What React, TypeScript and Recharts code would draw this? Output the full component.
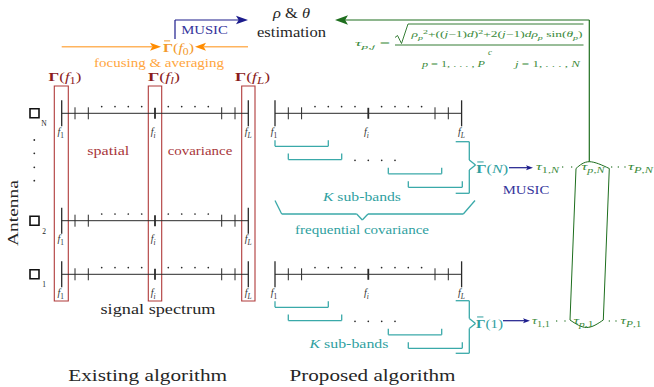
import React from "react";
import {
  ComposedChart,
  XAxis,
  YAxis,
  ReferenceLine,
  ReferenceArea,
  Scatter,
  Line,
} from "recharts";

const W = 654;
const H = 387;
const FONT = "'Liberation Serif', 'DejaVu Serif', serif";

// spectrum rows (y of the frequency axis) and axis starts
const existingRows = [113.3, 220.7, 274.3];
const antennaNames = ["N", "2", "1"];
const proposedRows = [113.3, 274.3];
const existingStart = 61.7;
const proposedStart = 275;

// tick offsets along a spectrum axis
const bigTicks = [0, 186.6];
const smallTicks = [13.3, 26.6, 160, 173.3];
const midTick = 93.3;
const specDots = [40, 53.3, 66.6, 80, 106.6, 120, 133.3, 146.6];
const freqNames = ["f_{1}", "f_{i}", "f_{L}"];
const freqOffsets = [-1, 91.5, 186.5];

// red boxes round f1, fi, fL (existing algorithm)
const redBoxes = [
  [54.3, 68.3],
  [148.3, 161.7],
  [241.7, 255],
];

// K sub-band brackets (proposed algorithm)
const subBands = [
  [275, 328.3],
  [288.3, 341.7],
  [388.3, 441.7],
  [408.3, 462.3],
];
const subBandDy = [27, 40.3, 54.5, 68];
const subBandDots = [355, 368.3, 381.7, 395];

// right braces: [top, tip, bottom]
const rightBraces = [
  [141.7, 165, 193.3],
  [300.7, 323.5, 353.3],
];

const freqBrace = [
  [275, 200.5],
  [281.7, 214],
  [356.7, 214],
  [362.3, 220],
  [368, 214],
  [463.3, 214],
  [475, 200.5],
];

const sqrtSign = [
  [395, 37.5],
  [397.5, 35.5],
  [401.5, 43.5],
  [408, 24],
  [583.5, 24],
];

const cylTop = [
  { x: 576, y: 168.5 },
  { x: 589.3, y: 161.7 },
  { x: 609.3, y: 168.5 },
];
const cylBottom = [
  { x: 570, y: 320 },
  { x: 586.7, y: 327.5 },
  { x: 603.3, y: 320 },
];

const tauRowN = [
  { x: 536, t: "τ_{1,N}", w: 23 },
  { x: 581.5, t: "τ_{p,N}", w: 23 },
  { x: 628, t: "τ_{P,N}", w: 25 },
];
const tauRow1 = [
  { x: 532, t: "τ_{1,1}", w: 18 },
  { x: 573.5, t: "τ_{p,1}", w: 20 },
  { x: 620.5, t: "τ_{P,1}", w: 21 },
];
const tauDotsN = [562.7, 571.7, 611.7, 618.3, 625];
const tauDots1 = [556.7, 565, 609.3, 616];

const COLORS: Record<string, string> = {
  black: "#2a2a2a",
  red: "#b03a3a",
  teal: "#3aa9a9",
  orange: "#ffb45e",
  orangeDark: "#ff8c00",
  blue: "#1c1c8c",
  green: "#1e6e1e",
};

const TEXT: Record<string, any> = {
  title: { size: 17.5, color: "#262626" },
  body: { size: 14, color: "#262626" },
  bodyMath: { size: 14, color: "#262626", math: true },
  red: { size: 12.5, color: "#a8363a" },
  blue: { size: 12.5, color: "#35359c" },
  orange: { size: 12, color: "#ffa640" },
  orangeMath: { size: 13, color: "#f39a2c", math: true },
  gamma: { size: 13, color: "#8b1c1c", math: true },
  teal: { size: 12.5, color: "#2f9f9f" },
  tealMath: { size: 12.5, color: "#2f9f9f", math: true },
  tealBig: { size: 13.5, color: "#2f9f9f", math: true },
  flab: { size: 10, color: "#333", math: true },
  ant: { size: 7.5, color: "#222" },
  antenna: { size: 15.5, color: "#262626" },
  green: { size: 9, color: "#3a8a3a", math: true },
  tau: { size: 10, color: "#3a8a3a", math: true },
};

const labels: any[] = [
  { x: 147.7, y: 375, t: "Existing algorithm", k: "title", w: 159 },
  { x: 372.5, y: 375, t: "Proposed algorithm", k: "title", w: 166 },
  { x: 158, y: 309, t: "signal spectrum", k: "body", w: 115 },
  { x: 291.5, y: 13, t: "ρ \\r{&} θ", k: "bodyMath", w: 37 },
  { x: 291.5, y: 32, t: "estimation", k: "body", w: 69 },
  { x: 108.3, y: 151, t: "spatial", k: "red", w: 42 },
  { x: 200, y: 151, t: "covariance", k: "red", w: 64.6 },
  { x: 204.5, y: 30, t: "MUSIC", k: "blue", w: 46.7 },
  { x: 526, y: 189.3, t: "MUSIC", k: "blue", w: 46.7 },
  { x: 159, y: 62.7, t: "focusing & averaging", k: "orange", w: 130 },
  { x: 178.5, y: 47, t: "\\o{Γ}(f_{0})", k: "orangeMath", w: 31 },
  { x: 65, y: 76, t: "\\b{Γ}(f_{1})", k: "gamma", w: 33 },
  { x: 164, y: 76, t: "\\b{Γ}(f_{l})", k: "gamma", w: 32 },
  { x: 252.5, y: 76, t: "\\b{Γ}(f_{L})", k: "gamma", w: 35 },
  { x: 362, y: 196.7, t: "K \\r{sub-bands}", k: "tealMath", w: 78 },
  { x: 349, y: 344, t: "K \\r{sub-bands}", k: "tealMath", w: 79 },
  { x: 362, y: 229.5, t: "frequential covariance", k: "teal", w: 134 },
  { x: 492.2, y: 168.3, t: "\\o{Γ}(N)", k: "tealBig", w: 32 },
  { x: 489.5, y: 323.3, t: "\\o{Γ}(1)", k: "tealBig", w: 27 },
  { x: 12.5, y: 213, t: "Antenna", k: "antenna", w: 66, rot: -90 },
  // formula
  { x: 355, y: 43, t: "τ_{p,j} =", k: "green", a: "start", w: 35 },
  {
    x: 411.5,
    y: 34,
    t: "ρ_{p}^{2}+((j−1)d)^{2}+2(j−1)dρ_{p} \\r{sin}(θ_{p})",
    k: "green",
    a: "start",
    w: 171,
  },
  { x: 490, y: 51.5, t: "c", k: "green" },
  { x: 453.5, y: 64, t: "p = 1, . . . , P", k: "green", w: 63 },
  { x: 547.5, y: 64, t: "j = 1, . . . , N", k: "green", w: 65 },
];

existingRows.forEach((y, r) => {
  freqNames.forEach((t, i) =>
    labels.push({ x: existingStart + freqOffsets[i], y: y + 18, t, k: "flab" })
  );
  labels.push({ x: 44, y: y + 10.5, t: antennaNames[r], k: "ant" });
});
proposedRows.forEach((y) =>
  freqNames.forEach((t, i) =>
    labels.push({ x: proposedStart + freqOffsets[i], y: y + 18, t, k: "flab" })
  )
);
tauRowN.forEach((d) => labels.push({ x: d.x, y: 166.5, t: d.t, k: "tau", a: "start", w: d.w }));
tauRow1.forEach((d) => labels.push({ x: d.x, y: 320.5, t: d.t, k: "tau", a: "start", w: d.w }));

// straight segments [x1, y1, x2, y2, colour, width]
const segs: any[] = [];
const poly = (pts: number[][], c: string, w: number) => {
  for (let i = 0; i < pts.length - 1; i++)
    segs.push([pts[i][0], pts[i][1], pts[i + 1][0], pts[i + 1][1], c, w]);
};

const dots: any[] = [];

const spectrum = (x0: number, y: number) => {
  poly([[x0, y], [x0 + bigTicks[1], y]], "black", 1);
  bigTicks.forEach((d) => poly([[x0 + d, y - 13], [x0 + d, y + 13]], "black", 1.3));
  smallTicks.forEach((d) => poly([[x0 + d, y - 6], [x0 + d, y + 6]], "black", 1));
  poly([[x0 + midTick, y - 5.5], [x0 + midTick, y + 5.5]], "black", 1.8);
  specDots.forEach((d) => dots.push({ x: x0 + d, y: y - 6.7, k: "black", r: 0.85 }));
};
existingRows.forEach((y) => spectrum(existingStart, y));
proposedRows.forEach((y) => spectrum(proposedStart, y));

[140, 153.3, 167.3, 180.7].forEach((y) => dots.push({ x: 34.3, y, k: "black", r: 0.9 }));

proposedRows.forEach((y) => {
  subBands.forEach(([a, b], i) => {
    const top = y + subBandDy[i];
    poly([[a, top], [a, top + 6], [b, top + 6], [b, top]], "teal", 1.3);
  });
  subBandDots.forEach((x) => dots.push({ x, y: y + 47, k: "black", r: 0.85 }));
});

rightBraces.forEach(([top, tip, bot]) =>
  poly(
    [
      [455.7, top],
      [469.3, top],
      [469.3, tip - 5],
      [475.5, tip],
      [469.3, tip + 5],
      [469.3, bot],
      [455.7, bot],
    ],
    "teal",
    1.3
  )
);
poly(freqBrace, "teal", 1.3);

// arrows
poly([[61.7, 46.7], [152, 46.7]], "orange", 1.6);
poly([[204, 46.7], [248, 46.7]], "orange", 1.6);
poly([[175, 39], [175, 20], [240, 20]], "blue", 1.2);
poly([[589.3, 161.7], [589.3, 20], [343, 20]], "green", 1.2);
poly([[509, 167.7], [528, 167.7]], "blue", 1.2);
poly([[503, 320.7], [525, 320.7]], "blue", 1.2);

const arrowHeads = [
  { x: 161, y: 46.7, dir: 1, len: 11, k: "orangeDark" },
  { x: 195, y: 46.7, dir: -1, len: 11, k: "orangeDark" },
  { x: 248, y: 20, dir: 1, len: 12, k: "blue" },
  { x: 335, y: 20, dir: -1, len: 13, k: "green" },
  { x: 533, y: 167.7, dir: 1, len: 7, k: "blue" },
  { x: 530, y: 320.7, dir: 1, len: 7, k: "blue" },
];

// formula lines
poly(sqrtSign, "green", 0.9);
poly([[395, 45], [583.5, 45]], "green", 0.9);

// cylinder sides
poly([[576, 168.5], [570, 320]], "green", 1);
poly([[609.3, 168.5], [603.3, 320]], "green", 1);

tauDotsN.forEach((x) => dots.push({ x, y: 167, k: "green", r: 0.65 }));
tauDots1.forEach((x) => dots.push({ x, y: 321, k: "green", r: 0.65 }));

// ---- rich text ----
// _{sub} ^{sup} \b{bold} \o{bold with bar} \r{upright}
const RE = /(_\{[^}]*\}|\^\{[^}]*\}|\\[bro]\{[^}]*\})/;
function parse(t: string) {
  return t
    .split(RE)
    .filter(Boolean)
    .map((p) => {
      if (p.startsWith("_{")) return { s: p.slice(2, -1), m: "sub", f: "a" };
      if (p.startsWith("^{")) return { s: p.slice(2, -1), m: "sup", f: "a" };
      if (p.startsWith("\\")) return { s: p.slice(3, -1), m: "n", f: p[1] };
      return { s: p, m: "n", f: "a" };
    });
}

function runs(s: string) {
  const out: { s: string; it: boolean }[] = [];
  for (const ch of s) {
    const it = /[A-Za-zα-ω]/.test(ch);
    if (out.length && out[out.length - 1].it === it) out[out.length - 1].s += ch;
    else out.push({ s: ch, it });
  }
  return out;
}

const RichText = (props: any) => {
  const { cx, cy, payload } = props;
  const st = TEXT[payload.k];
  const size = st.size;
  let shift = 0;
  const spans: any[] = [];
  let bar = false;
  parse(payload.t).forEach((p, i) => {
    const target = p.m === "sub" ? size * 0.28 : p.m === "sup" ? -size * 0.4 : 0;
    const fs = p.m === "n" ? size : size * 0.74;
    const rs = st.math && p.f === "a" ? runs(p.s) : [{ s: p.s, it: false }];
    if (p.f === "o") bar = true;
    rs.forEach((r, j) => {
      const dy = target - shift;
      shift = target;
      spans.push(
        <tspan
          key={i + "-" + j}
          dy={dy || undefined}
          fontSize={fs}
          fontStyle={r.it ? "italic" : "normal"}
          fontWeight={p.f === "b" || p.f === "o" ? "bold" : "normal"}
        >
          {r.s}
        </tspan>
      );
    });
  });
  const anchor = payload.a || "middle";
  const base = cy + size * 0.35;
  // bar over the leading Γ (for Γ̄ labels)
  const x0 = anchor === "middle" ? cx - (payload.w || 0) / 2 : cx;
  return (
    <g>
      <text
        x={cx}
        y={base}
        textAnchor={anchor}
        fill={st.color}
        fontSize={size}
        fontFamily={FONT}
        textLength={payload.w}
        lengthAdjust={payload.w ? "spacingAndGlyphs" : undefined}
        transform={payload.rot ? `rotate(${payload.rot} ${cx} ${cy})` : undefined}
        style={{ whiteSpace: "pre" }}
      >
        {spans}
      </text>
      {bar && (
        <line
          x1={x0 + size * 0.08}
          x2={x0 + size * 0.55}
          y1={base - size * 0.82}
          y2={base - size * 0.82}
          stroke={st.color}
          strokeWidth={1}
        />
      )}
    </g>
  );
};

const ArrowHead = (props: any) => {
  const { cx, cy, payload } = props;
  const L = payload.len;
  const h = L * 0.36;
  const d = payload.dir;
  return (
    <path
      d={`M${cx},${cy} L${cx - d * L},${cy - h} L${cx - d * L * 0.78},${cy} L${cx - d * L},${cy + h} Z`}
      fill={COLORS[payload.k]}
    />
  );
};

const Dot = (props: any) => (
  <circle cx={props.cx} cy={props.cy} r={props.payload.r} fill={COLORS[props.payload.k]} />
);

export default function App() {
  return (
    <div style={{ position: "absolute", left: 0, top: 0, background: "#fff" }}>
      <ComposedChart
        width={W}
        height={H}
        margin={{ top: 0, right: 0, bottom: 0, left: 0 }}
        style={{ fontFamily: FONT }}
      >
        <XAxis type="number" dataKey="x" domain={[0, W]} hide allowDataOverflow />
        <YAxis type="number" dataKey="y" domain={[0, H]} reversed hide allowDataOverflow />
        {redBoxes.map(([a, b], i) => (
          <ReferenceArea
            key={"rb" + i}
            x1={a}
            x2={b}
            y1={86}
            y2={301}
            fill="none"
            fillOpacity={0}
            stroke={COLORS.red}
            strokeWidth={1.1}
            strokeOpacity={1}
            ifOverflow="visible"
          />
        ))}
        {existingRows.map((y, i) => (
          <ReferenceArea
            key={"sq" + i}
            x1={30}
            x2={39}
            y1={y - 4.5}
            y2={y + 4.5}
            fill="#fff"
            fillOpacity={1}
            stroke="#111"
            strokeWidth={1.6}
            strokeOpacity={1}
            ifOverflow="visible"
          />
        ))}
        {segs.map((s, i) => (
          <ReferenceLine
            key={"s" + i}
            segment={[
              { x: s[0], y: s[1] },
              { x: s[2], y: s[3] },
            ]}
            stroke={COLORS[s[4]]}
            strokeWidth={s[5]}
            ifOverflow="visible"
          />
        ))}
        <Line
          data={cylTop}
          dataKey="y"
          type="natural"
          stroke={COLORS.green}
          strokeWidth={1}
          dot={false}
          isAnimationActive={false}
        />
        <Line
          data={cylBottom}
          dataKey="y"
          type="natural"
          stroke={COLORS.green}
          strokeWidth={1}
          dot={false}
          isAnimationActive={false}
        />
        <Scatter data={dots} dataKey="y" shape={Dot} isAnimationActive={false} />
        <Scatter data={arrowHeads} dataKey="y" shape={ArrowHead} isAnimationActive={false} />
        <Scatter data={labels} dataKey="y" shape={RichText} isAnimationActive={false} />
      </ComposedChart>
    </div>
  );
}
